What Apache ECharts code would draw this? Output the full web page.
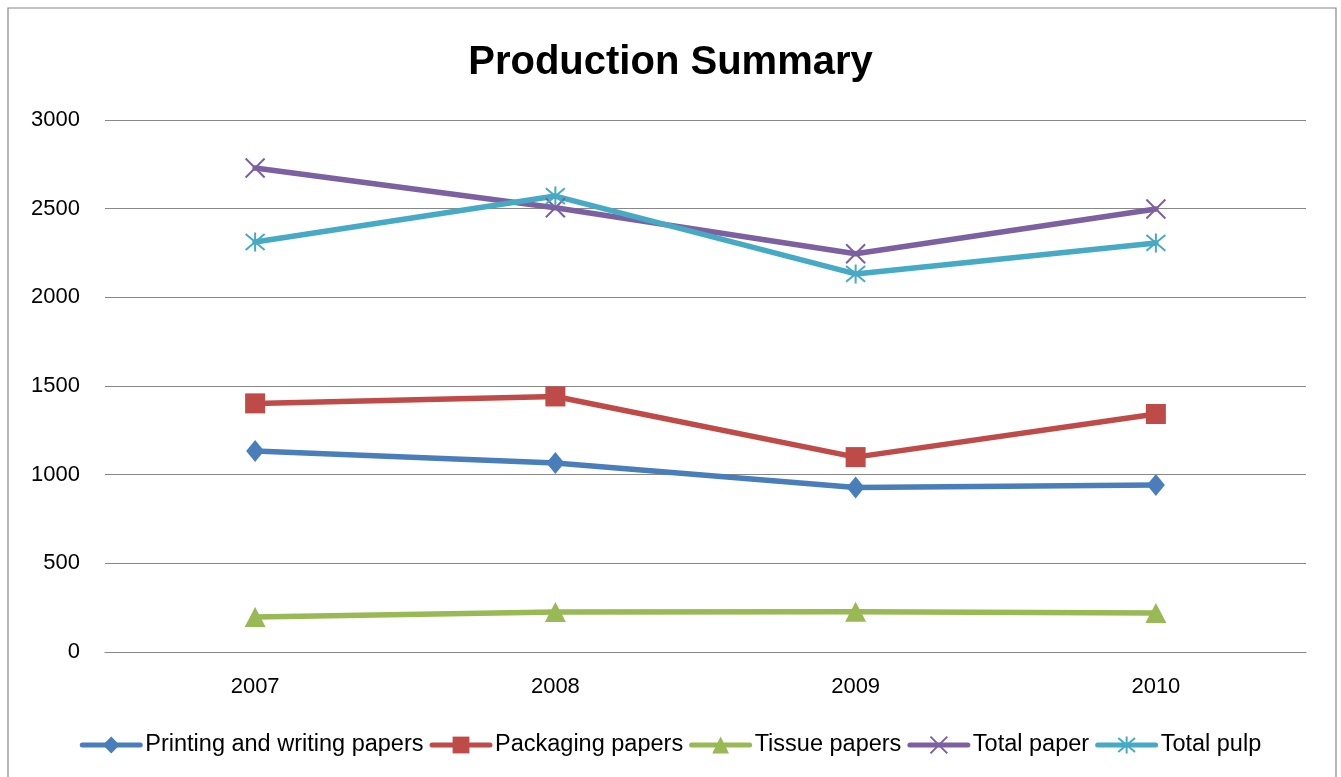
<!DOCTYPE html>
<html>
<head>
<meta charset="utf-8">
<title>Production Summary</title>
<script src="https://cdn.jsdelivr.net/npm/echarts@6/dist/echarts.min.js"></script>
<style>
  html, body { margin: 0; padding: 0; background: #ffffff; }
  #chart { width: 1341px; height: 777px; }
</style>
</head>
<body>
<div id="chart"></div>
<script>
// Production volumes by year
const years = ['2007', '2008', '2009', '2010'];
const printingWriting = [1134, 1066, 928, 942];
const packaging = [1402, 1441, 1099, 1342];
const tissue = [197, 225, 227, 220];
const totalPaper = [2729, 2505, 2246, 2498];
const totalPulp = [2312, 2571, 2132, 2307];

const FONT = '"Liberation Sans", Arial, sans-serif';
const GRID_GREY = '#878787';

// stroked marker shapes
const X_PATH = 'path://M0,0L10,10M10,0L0,10';
const STAR_PATH = 'path://M0,0L10,10M10,0L0,10M5,-1L5,11';

function lineSeries(name, data, color, symbol, size, stroked) {
  return {
    name: name,
    type: 'line',
    data: data,
    symbol: symbol,
    symbolSize: size,
    showAllSymbol: true,
    z: 2,
    lineStyle: { color: color, width: 5.5, cap: 'round', join: 'round' },
    itemStyle: stroked
      ? { color: 'rgba(0,0,0,0)', borderColor: color, borderWidth: 2 }
      : { color: color, borderWidth: 0 },
    emphasis: { disabled: true },
    animation: false
  };
}

const chart = echarts.init(document.getElementById('chart'), null, { renderer: 'canvas' });

chart.setOption({
  backgroundColor: '#ffffff',
  animation: false,
  title: {
    text: 'Production Summary',
    left: 'center',
    top: 38,
    textStyle: { fontFamily: FONT, fontSize: 40, fontWeight: 'bold', color: '#000000' }
  },
  graphic: [{
    type: 'rect',
    shape: { x: 8, y: 8, width: 1328, height: 800 },
    style: { fill: 'none', stroke: GRID_GREY, lineWidth: 1.2 },
    silent: true,
    z: -1
  }],
  grid: { left: 105, right: 35, top: 120, bottom: 125, containLabel: false },
  legend: {
    bottom: 15,
    left: 'center',
    itemWidth: 58,
    itemHeight: 21,
    itemGap: 6,
    lineStyle: { width: 5 },
    textStyle: { fontFamily: FONT, fontSize: 23.5, color: '#000000' },
    data: ['Printing and writing papers', 'Packaging papers', 'Tissue papers', 'Total paper', 'Total pulp']
  },
  xAxis: {
    type: 'category',
    data: years,
    boundaryGap: true,
    axisLine: { show: true, lineStyle: { color: GRID_GREY, width: 1.2 } },
    axisTick: { show: false },
    axisLabel: { fontFamily: FONT, fontSize: 22, color: '#000000', margin: 24 },
    splitLine: { show: false }
  },
  yAxis: {
    type: 'value',
    min: 0,
    max: 3000,
    interval: 500,
    axisLine: { show: false },
    axisTick: { show: false },
    axisLabel: {
      fontFamily: FONT, fontSize: 22, color: '#000000', margin: 25,
      formatter: function (v) { return String(v); }
    },
    splitLine: { show: true, lineStyle: { color: GRID_GREY, width: 1.2 } }
  },
  series: [
    lineSeries('Printing and writing papers', printingWriting, '#4A7EBB', 'diamond', [18, 22], false),
    lineSeries('Packaging papers', packaging, '#BE4B48', 'rect', 20, false),
    lineSeries('Tissue papers', tissue, '#98B954', 'triangle', [21, 20], false),
    lineSeries('Total paper', totalPaper, '#7D60A0', X_PATH, 19, true),
    lineSeries('Total pulp', totalPulp, '#46AAC5', STAR_PATH, 19, true)
  ]
});
</script>
</body>
</html>
